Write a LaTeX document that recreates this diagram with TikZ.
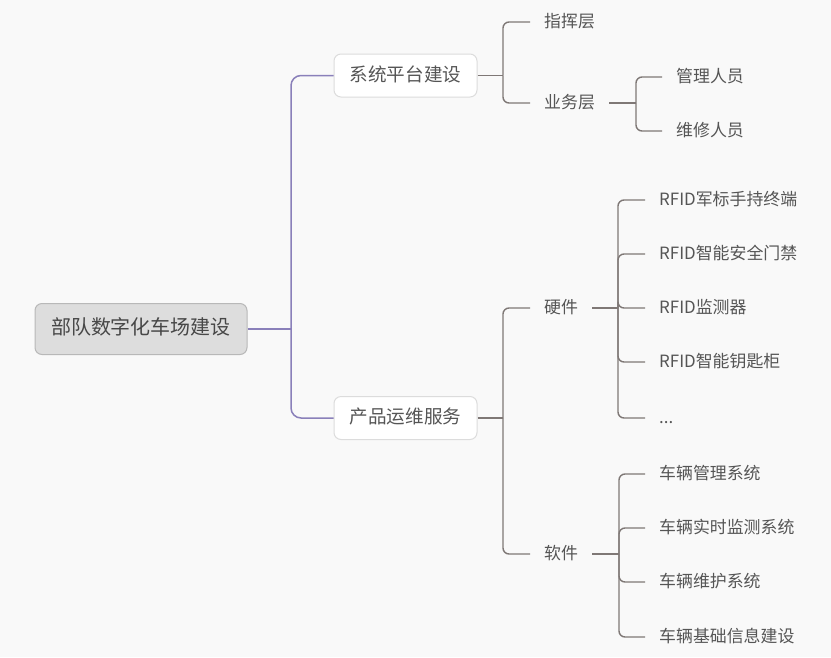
\documentclass[tikz,border=0pt]{standalone}
\usepackage{fontspec}
\setmainfont{Noto Sans CJK SC}
\definecolor{bgc}{HTML}{F9F9F9}
\definecolor{purp}{HTML}{8A80BA}
\definecolor{grayl}{HTML}{7F7876}
\definecolor{txt}{HTML}{555555}
\definecolor{rootfill}{HTML}{DDDDDD}
\definecolor{rootdraw}{HTML}{B8B8B8}
\definecolor{boxdraw}{HTML}{DCDCDC}
\tikzset{
  every node/.style={text=txt, font=\fontsize{16.9pt}{18pt}\selectfont, text height=1.0em, text depth=0em},
  rootbox/.style={draw=rootdraw, fill=rootfill, rounded corners=7pt, line width=1pt, minimum width=212pt, minimum height=51pt, inner sep=0pt, font=\fontsize{20pt}{22pt}\selectfont, text=black!72, text height=1.16em},
  lvlbox/.style={draw=boxdraw, fill=white, rounded corners=7pt, line width=1pt, minimum width=143pt, minimum height=43pt, inner sep=0pt, font=\fontsize{18.6pt}{20pt}\selectfont, text height=1.16em},
  midtext/.style={anchor=west, inner xsep=14pt, inner ysep=0pt},
  leaf/.style={anchor=west, inner xsep=14pt, inner ysep=0pt},
  plink/.style={draw=purp, line width=1.5pt, rounded corners=10pt},
  glink/.style={draw=grayl, line width=1.4pt, rounded corners=6pt},
}
\begin{document}
\begin{tikzpicture}[x=1pt,y=1pt]
\fill[bgc] (0,0) rectangle (831,-657);
\useasboundingbox (0,0) rectangle (831,-657);

\node[rootbox] (root) at (141,-329) {部队数字化车场建设};
\node[lvlbox] (sys) at (405.5,-75.5) {系统平台建设};
\node[lvlbox] (prod) at (405.5,-418) {产品运维服务};

\node[midtext] (zhihui) at (530,-22) {指挥层};
\node[midtext] (yewu) at (530,-103) {业务层};
\node[leaf] (guanli) at (662,-77) {管理人员};
\node[leaf] (weixiu) at (662,-131) {维修人员};

\node[midtext] (yingjian) at (530,-308) {硬件};
\node[midtext] (ruanjian) at (530,-554) {软件};

\node[leaf] (h1) at (645,-200) {RFID军标手持终端};
\node[leaf] (h2) at (645,-254) {RFID智能安全门禁};
\node[leaf] (h3) at (645,-308) {RFID监测器};
\node[leaf] (h4) at (645,-362) {RFID智能钥匙柜};
\node[leaf] (h5) at (645,-418) {...};

\node[leaf] (s1) at (645,-474) {车辆管理系统};
\node[leaf] (s2) at (645,-528) {车辆实时监测系统};
\node[leaf] (s3) at (645,-582) {车辆维护系统};
\node[leaf] (s4) at (645,-637) {车辆基础信息建设};

\coordinate (j0) at (291,-329);
\coordinate (j1) at (503,-75.5);
\coordinate (j2) at (636,-103);
\coordinate (j3) at (503,-418);
\coordinate (j4) at (618,-308);
\coordinate (j5) at (619,-554);

\draw[plink] (root.east) -- (j0);
\draw[plink] (j0) |- (sys.west);
\draw[plink] (j0) |- (prod.west);

\draw[glink] (sys.east) -- (j1);
\draw[glink] (j1) |- (zhihui.west);
\draw[glink] (j1) |- (yewu.west);

\draw[glink] (yewu.east) -- (j2);
\draw[glink] (j2) |- (guanli.west);
\draw[glink] (j2) |- (weixiu.west);

\draw[glink] (prod.east) -- (j3);
\draw[glink] (j3) |- (yingjian.west);
\draw[glink] (j3) |- (ruanjian.west);

\draw[glink] (yingjian.east) -- (j4);
\foreach \n in {h1,h2,h3,h4,h5} \draw[glink] (j4) |- (\n.west);

\draw[glink] (ruanjian.east) -- (j5);
\foreach \n in {s1,s2,s3,s4} \draw[glink] (j5) |- (\n.west);
\end{tikzpicture}
\end{document}
